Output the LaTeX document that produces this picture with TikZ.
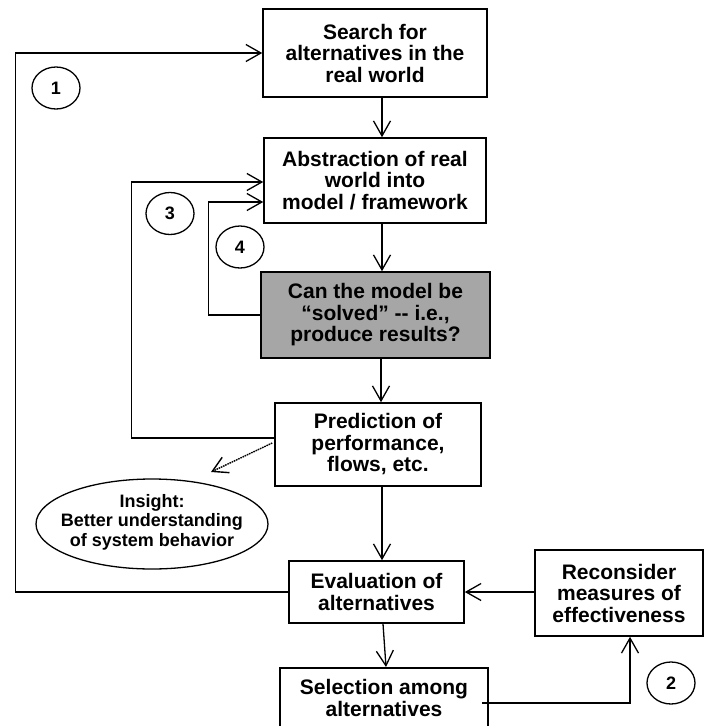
\documentclass[tikz,border=0pt]{standalone}
\usepackage{fontspec}
\setmainfont{Liberation Sans}
\usetikzlibrary{arrows.meta,shapes.geometric}
\definecolor{boxgray}{RGB}{166,166,166}
\begin{document}
\begin{tikzpicture}[x=1pt,y=-1pt,
  box/.style={draw, line width=1.6pt, align=center, inner sep=0pt,
    font=\fontsize{21}{21.5}\selectfont\bfseries},
  num/.style={draw, ellipse, line width=1.3pt, minimum width=48pt, minimum height=42pt,
    inner sep=0pt, font=\fontsize{18}{18}\selectfont\bfseries},
  arr/.style={line width=1.3pt, -{Straight Barb[length=15pt,width=17pt]}},
  dotarr/.style={line width=1.4pt, dash pattern=on 1.6pt off 0.8pt, -{Straight Barb[length=15pt,width=17pt]}}]
\path[use as bounding box] (0,0) rectangle (704,726);
\clip (0,0) rectangle (704,726);
% boxes
\node[box, minimum width=224, minimum height=88] (search) at (375,53) {Search for\\alternatives in the\\real world};
\node[box, minimum width=222, minimum height=85] (abs) at (375,180.5) {Abstraction of real\\world into\\model / framework};
\node[box, fill=boxgray, minimum width=229, minimum height=86] (can) at (375.5,315) {Can the model be\\ “solved” -{}- i.e.,\\produce results?};
\node[box, minimum width=206, minimum height=83] (pred) at (378,444.5) {Prediction of\\performance,\\flows, etc.};
\node[align=center, inner sep=0pt, font=\fontsize{18}{19.5}\selectfont\bfseries] (ins) at (152,522) {Insight:\\Better understanding\\of system behavior};
\draw[line width=1.3pt] (152,524) ellipse [x radius=116, y radius=45];
\node[box, minimum width=175, minimum height=62] (eval) at (376.5,592) {Evaluation of\\alternatives};
\node[box, minimum width=168, minimum height=86] (recon) at (619,593) {Reconsider\\measures of\\effectiveness};
\node[box, minimum width=208, anchor=north] (sel) at (384,667) {\rule{0pt}{27pt}Selection among\\alternatives\rule[-40pt]{0pt}{1pt}};
% numbered circles
\node[num] (n1) at (56,88) {1};
\node[num] (n3) at (170,213.5) {3};
\node[num] (n4) at (240,247) {4};
\node[num] (n2) at (671,683) {2};
% main flow
\coordinate (vx) at (382,0);
\coordinate (selline) at (0,703);
\draw[arr] (search.south -| vx) -- (abs.north -| vx);
\draw[arr] (abs.south -| vx) -- (can.north -| vx);
\draw[arr] ([xshift=-1pt]can.south -| vx) -- ([xshift=-1pt]pred.north -| vx);
\draw[arr] (pred.south -| vx) -- (eval.north -| vx);
\draw[arr] ([xshift=1pt]eval.south -| vx) -- ([xshift=4pt]sel.north -| vx);
% loops
\draw[arr] (eval.west) -- ++(-273,0) |- (search.west);
\draw[arr] ([yshift=6.5pt]pred.west) -- ++(-143,0) |- ([yshift=-1.5pt]abs.west);
\draw[arr] (can.west) -- ++(-52,0) |- ([yshift=-21.5pt]abs.west);
\draw[arr] (eval.east -| recon.west) -- (eval.east);
\draw[arr] ([xshift=-7pt]sel.east |- selline) -| ([xshift=11pt]recon.south);
% insight
\coordinate (instip) at (211,472);
\draw[dotarr] ([xshift=-2pt,yshift=1.5pt]pred.west) -- (instip);
\end{tikzpicture}
\end{document}
